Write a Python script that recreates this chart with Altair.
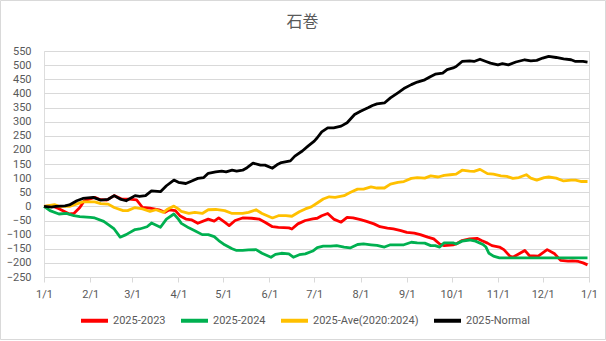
import altair as alt
import pandas as pd

# ---- data (day of year, cumulative value) ----
black_days = [0, 5, 8, 14, 17, 22, 26, 33, 38, 43, 47, 51, 55, 61, 64, 68, 72, 78, 82, 87, 90,
              95, 99, 103, 107, 110, 115, 119, 122, 126, 129, 133, 136, 140, 145, 148, 153, 156,
              159, 165, 168, 173, 177, 181, 183, 186, 190, 194, 199, 203, 208, 212, 217, 220, 223,
              228, 232, 237, 241, 246, 250, 255, 259, 262, 267, 270, 274, 276, 280, 285, 288, 292,
              296, 299, 304, 307, 311, 316, 322, 326, 330, 334, 338, 343, 348, 353, 356, 361, 364]
black_vals = [0, -3, 0, 2, 5, 20, 28, 32, 22, 25, 38, 26, 20, 38, 35, 38, 55, 52, 73, 93, 85,
              81, 90, 99, 102, 117, 122, 125, 122, 128, 125, 128, 137, 153, 146, 146, 135, 147,
              155, 161, 178, 196, 214, 231, 243, 264, 278, 278, 284, 296, 325, 337, 349, 357, 363,
              366, 384, 402, 417, 431, 440, 448, 460, 468, 472, 484, 490, 495, 513, 515, 513, 521,
              513, 507, 501, 505, 501, 511, 519, 515, 517, 525, 531, 527, 522, 519, 513, 513, 511]

red_days = [0, 5, 10, 17, 20, 24, 27, 34, 37, 42, 47, 52, 57, 62, 66, 71, 77, 81, 84, 88, 91,
            95, 99, 103, 110, 114, 117, 121, 124, 128, 133, 139, 144, 148, 153, 157, 164, 166,
            170, 175, 180, 183, 186, 190, 194, 199, 203, 207, 212, 216, 221, 225, 230, 234, 239,
            243, 248, 252, 257, 261, 265, 268, 274, 276, 280, 285, 290, 293, 297, 300, 305, 308,
            312, 314, 317, 322, 325, 331, 337, 342, 346, 351, 354, 358, 361, 364]
red_vals = [0, 2, -8, -27, -25, -4, 20, 32, 25, 22, 38, 26, 26, 23, -4, -6, -12, -21, -12, -15, -33,
            -45, -48, -60, -45, -52, -41, -56, -68, -50, -41, -42, -45, -56, -72, -74, -76, -80,
            -62, -50, -44, -42, -33, -25, -45, -56, -39, -41, -47, -53, -62, -72, -77, -80, -86,
            -92, -95, -100, -109, -115, -133, -139, -136, -133, -121, -115, -113, -121, -130, -139,
            -144, -153, -176, -180, -171, -156, -174, -176, -153, -168, -191, -194, -193, -195,
            -200, -207]

green_days = [0, 4, 10, 15, 20, 24, 31, 34, 40, 44, 47, 51, 55, 61, 64, 69, 72, 78, 82, 87, 90,
              92, 97, 101, 106, 110, 114, 117, 121, 126, 129, 133, 137, 142, 146, 152, 155, 159,
              164, 167, 171, 175, 180, 183, 187, 192, 196, 201, 205, 210, 214, 219, 223, 228,
              232, 237, 241, 246, 250, 255, 259, 262, 265, 268, 274, 276, 280, 285, 289, 294,
              296, 298, 301, 305, 335, 364]
green_vals = [0, -15, -27, -25, -33, -36, -39, -41, -53, -68, -80, -109, -100, -82, -80, -72, -59,
              -74, -45, -27, -45, -60, -76, -86, -100, -100, -107, -121, -136, -150, -156, -156,
              -154, -153, -166, -180, -170, -166, -168, -180, -171, -168, -158, -146, -141, -141,
              -139, -144, -147, -135, -133, -136, -138, -144, -136, -136, -136, -127, -129, -130,
              -139, -139, -144, -129, -129, -133, -123, -119, -123, -135, -144, -166, -176, -182,
              -182, -182]

yellow_days = [0, 7, 10, 17, 21, 26, 34, 38, 43, 47, 53, 56, 61, 66, 71, 75, 80, 83, 87, 90, 92,
               97, 101, 106, 110, 115, 121, 126, 133, 137, 142, 146, 153, 157, 162, 166, 171, 175,
               179, 183, 187, 191, 195, 201, 205, 210, 214, 219, 223, 228, 232, 237, 241, 246,
               250, 255, 259, 264, 268, 272, 276, 280, 285, 288, 292, 297, 301, 306, 310, 314,
               318, 323, 326, 330, 335, 338, 343, 348, 353, 356, 360, 364]
yellow_vals = [0, 6, 0, 0, 7, 16, 16, 10, 8, -4, -15, -15, -4, -9, -18, -12, -21, -9, 1, -9, -18,
               -25, -21, -25, -12, -11, -15, -25, -25, -21, -12, -25, -41, -33, -33, -35, -19, -9,
               -2, 12, 26, 34, 32, 38, 49, 61, 61, 69, 65, 65, 79, 85, 88, 99, 102, 100, 108, 104,
               110, 112, 114, 128, 125, 124, 131, 116, 114, 108, 106, 99, 102, 112, 100, 93, 102,
               104, 100, 90, 93, 93, 88, 88]

series_names = ["2025-2023", "2025-2024", "2025-Ave(2020:2024)", "2025-Normal"]
series_colors = ["#FF0000", "#00B050", "#FFC000", "#000000"]

month_ticks = [0, 31, 59, 90, 120, 151, 181, 212, 243, 273, 304, 334, 365]
month_labels = ["1/1", "2/1", "3/1", "4/1", "5/1", "6/1", "7/1", "8/1", "9/1", "10/1",
                "11/1", "12/1", "1/1"]
y_ticks = list(range(-250, 551, 50))

rows = []
for name, days, vals, order in [
    (series_names[0], red_days, red_vals, 0),
    (series_names[1], green_days, green_vals, 1),
    (series_names[2], yellow_days, yellow_vals, 2),
    (series_names[3], black_days, black_vals, 3),
]:
    for d, v in zip(days, vals):
        rows.append({"series": name, "day": d, "value": v, "ord": order})
df = pd.DataFrame(rows)

FONT = "Noto Sans CJK JP"
LFONT = "Roboto"
GRAY = "#595959"
label_expr = ("[" + ",".join("'%s'" % s for s in month_labels) + "][indexof(["
              + ",".join(str(t) for t in month_ticks) + "], datum.value)]")

lines = alt.Chart(df).mark_line(strokeWidth=2.8, strokeJoin="round").encode(
    x=alt.X("day:Q", scale=alt.Scale(domain=[0, 365], nice=False, zero=False),
            axis=alt.Axis(values=month_ticks, labelExpr=label_expr, title=None, grid=False,
                          domainColor="#d9d9d9", tickColor="#d9d9d9", tickSize=5,
                          labelColor=GRAY, labelFont=LFONT, labelFontSize=11,
                          labelPadding=6, labelFlush=False)),
    y=alt.Y("value:Q", scale=alt.Scale(domain=[-250, 550], nice=False, zero=False),
            axis=alt.Axis(values=y_ticks, title=None, domain=False, ticks=False,
                          gridColor="#d9d9d9", labelColor=GRAY, labelFont=LFONT,
                          labelFontSize=11, labelPadding=13)),
    color=alt.Color("series:N", scale=alt.Scale(domain=series_names, range=series_colors),
                    legend=alt.Legend(orient="none", legendX=35, legendY=254,
                                      direction="horizontal", title=None,
                                      symbolType="stroke", symbolStrokeWidth=4,
                                      symbolSize=729, labelFont=LFONT, labelFontSize=11,
                                      labelColor=GRAY, columnPadding=7, labelOffset=3)),
    detail="ord:O",
    order="day:Q",
)

border = alt.Chart(alt.Data(values=[{}])).mark_rect(
    fill=None, stroke="#d9d9d9", strokeWidth=1, clip=False
).encode(
    x=alt.value(-43.5), x2=alt.value(545 + 16.5),
    y=alt.value(-50.5), y2=alt.value(226 + 62.5),
)

chart = alt.layer(border, lines).properties(
    width=545, height=226,
    title=alt.Title("石巻", font=FONT, fontSize=16, fontWeight="normal", color=GRAY,
                    anchor="middle", dx=-14, dy=44, offset=14),
    autosize="none",
    padding={"left": 44, "top": 51, "right": 17, "bottom": 64},
).configure_view(stroke=None).configure(background="white")

chart.save("out.html", embed_options={"renderer": "svg", "actions": False})
